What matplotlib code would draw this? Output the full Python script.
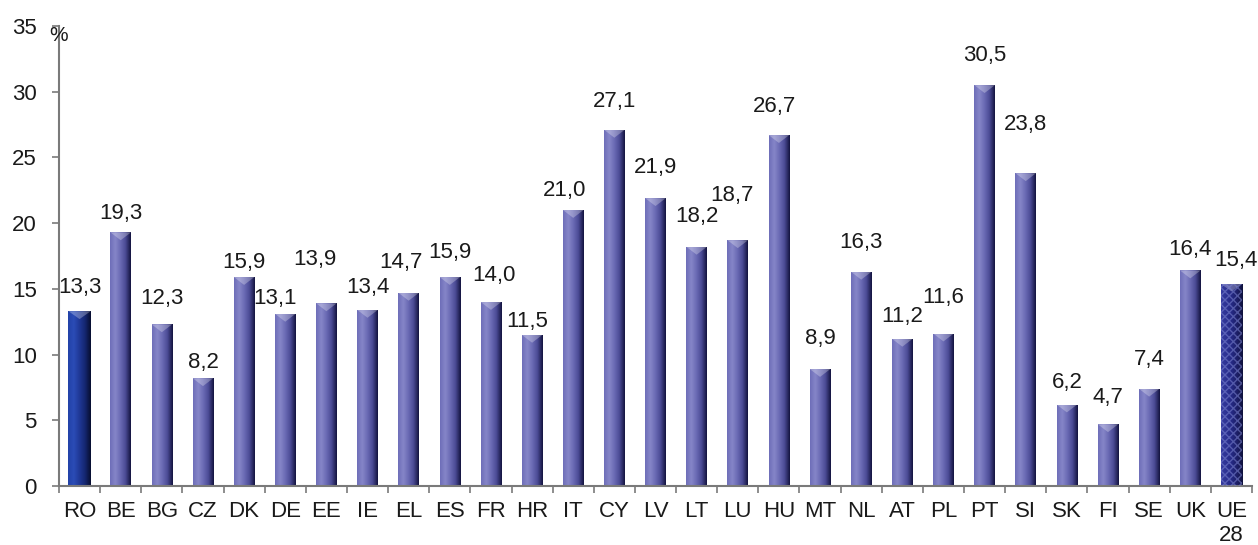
import numpy as np
import matplotlib
matplotlib.use("Agg")
import matplotlib.pyplot as plt
from matplotlib.colors import LinearSegmentedColormap

plt.rcParams['font.family'] = ['Liberation Sans', 'DejaVu Sans']

categories = ["RO", "BE", "BG", "CZ", "DK", "DE", "EE", "IE", "EL", "ES", "FR", "HR",
              "IT", "CY", "LV", "LT", "LU", "HU", "MT", "NL", "AT", "PL", "PT", "SI",
              "SK", "FI", "SE", "UK", "UE\n28"]
values = [13.3, 19.3, 12.3, 8.2, 15.9, 13.1, 13.9, 13.4, 14.7, 15.9, 14.0, 11.5,
          21.0, 27.1, 21.9, 18.2, 18.7, 26.7, 8.9, 16.3, 11.2, 11.6, 30.5, 23.8,
          6.2, 4.7, 7.4, 16.4, 15.4]
labels = ["13,3", "19,3", "12,3", "8,2", "15,9", "13,1", "13,9", "13,4", "14,7", "15,9",
          "14,0", "11,5", "21,0", "27,1", "21,9", "18,2", "18,7", "26,7", "8,9", "16,3",
          "11,2", "11,6", "30,5", "23,8", "6,2", "4,7", "7,4", "16,4", "15,4"]
# label anchor heights (data units) and horizontal shifts (category units)
label_y = [15.07, 20.70, 14.30, 9.36, 16.97, 14.30, 17.27, 15.07, 16.97, 17.80,
           15.98, 12.55, 22.52, 29.29, 24.20, 20.47, 22.14, 28.91, 11.26, 18.49,
           12.93, 14.38, 32.79, 27.47, 7.91, 6.70, 9.59, 17.96, 17.12]
label_dx = [0, 0, 0, 0, 0, -0.24, -0.27, 0, -0.2, 0,
            0.08, -0.12, -0.22, 0, 0, 0, -0.15, -0.1, 0, 0,
            0, 0, 0, 0, 0, 0, 0, 0, 0.12]

fig = plt.figure(figsize=(12.58, 5.45), dpi=100)
ax = fig.add_axes([59/1258, 1-486/545, (1252-59)/1258, (486-26)/545])

x = np.arange(len(categories))

cmap_main = LinearSegmentedColormap.from_list("m", ["#6E6EB8", "#8686C8", "#6A6AB4", "#4A4A94", "#141440"])
cmap_ro = LinearSegmentedColormap.from_list("r", ["#2242A8", "#2B4CB6", "#203896", "#142670", "#080E30"])
cmap_ue = LinearSegmentedColormap.from_list("u", ["#363CA0", "#2C3192", "#242882", "#1C1E66", "#10123C"])

grad = np.linspace(0, 1, 64).reshape(1, -1)
n = len(values)
for i, v in enumerate(values):
    if i == 0:
        cm, w = cmap_ro, 0.54
    elif i == n - 1:
        cm, w = cmap_ue, 0.53
    else:
        cm, w = cmap_main, 0.50
    b = ax.bar(x[i], v, width=w, color="none", edgecolor="none", zorder=2)[0]
    x0 = b.get_x()
    im = ax.imshow(grad, cmap=cm, aspect="auto", extent=[x0, x0 + w, 0, v],
                   zorder=2, interpolation="bilinear")
    im.set_clip_path(b)
    # pyramid top facet
    ax.fill([x0, x0 + w / 2, x0 + w], [v, v - 0.6, v],
            color="white", alpha=0.28, zorder=3, lw=0)
    if i == n - 1:
        ax.bar(x[i], v, width=w, color="none", edgecolor="#7C84D0",
               hatch="xxxx", lw=0, zorder=3, alpha=0.55)
    ax.text(x[i] + label_dx[i], label_y[i], labels[i], ha="center", va="center",
            fontsize=16, color="#1a1a1a", zorder=4)

ax.set_xlim(-0.5, n - 0.5)
ax.set_ylim(0, 35)
ax.set_yticks(np.arange(0, 36, 5))
ax.set_yticklabels([str(t) for t in range(0, 36, 5)], fontsize=16, color="#1a1a1a")
ax.set_xticks(x)
ax.set_xticklabels(categories, fontsize=16, color="#1a1a1a")
ax.set_xticks(np.arange(-0.5, n, 1), minor=True)
ax.tick_params(axis="x", which="major", length=0, pad=11)
ax.tick_params(axis="x", which="minor", length=5, color="#7a7a7a", width=1.2)
ax.tick_params(axis="y", length=5, color="#7a7a7a", width=1.2, pad=11)
for s in ["top", "right"]:
    ax.spines[s].set_visible(False)
for s in ["left", "bottom"]:
    ax.spines[s].set_color("#7a7a7a")
    ax.spines[s].set_linewidth(1.5)

ax.text(0.0, 35, "%", transform=ax.get_yaxis_transform(), ha="center", va="top",
        fontsize=15, color="#1a1a1a")

fig.savefig("out.png", dpi=100)
